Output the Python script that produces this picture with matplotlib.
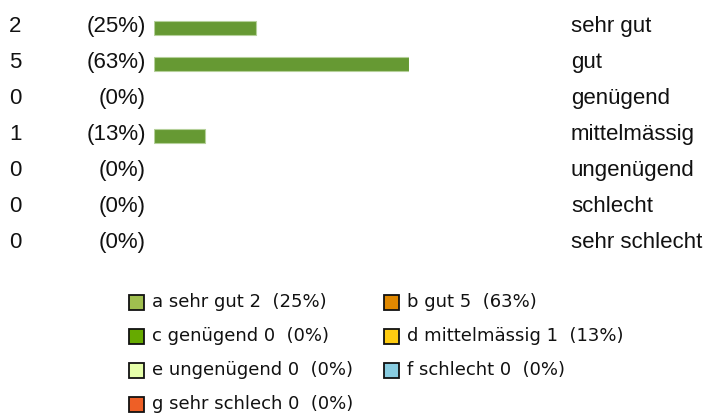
import matplotlib
matplotlib.use("Agg")
import matplotlib.pyplot as plt
from matplotlib.patches import Rectangle
from matplotlib.transforms import blended_transform_factory

# ---- data ----
labels = ["sehr gut", "gut", "genügend", "mittelmässig",
          "ungenügend", "schlecht", "sehr schlecht"]
counts = [2, 5, 0, 1, 0, 0, 0]
percents = [25, 63, 0, 13, 0, 0, 0]
letters = ["a", "b", "c", "d", "e", "f", "g"]
legend_colors = ["#a0bf4f", "#e08800", "#66aa00", "#ffcc11",
                 "#e6ffaa", "#88cce0", "#ee5f26"]

W, H = 709, 418
fig = plt.figure(figsize=(W / 100, H / 100), dpi=100)

# pixel-space axes for text and legend
pax = fig.add_axes([0, 0, 1, 1])
pax.set_xlim(0, W)
pax.set_ylim(H, 0)
pax.axis("off")

# bar axes: counts on x, rows 36 px apart, first centre at y=28
row_h = 36
top = 28 - row_h / 2
n = len(labels)
bottom = top + row_h * n
bar_left, bar_width = 154, 255
bax = fig.add_axes([bar_left / W, (H - bottom) / H, bar_width / W, (bottom - top) / H])
bax.set_xlim(0, max(counts))
bax.set_ylim(n - 0.5, -0.5)
bax.axis("off")
bax.patch.set_alpha(0)

rows = list(range(n))
# only draw an edge where there is a bar (zero bars stay invisible)
edge_w = [0.8 if c > 0 else 0 for c in counts]
bax.barh(rows, counts, height=14 / row_h, left=0, color="#669933",
         edgecolor="#b5d09a", linewidth=edge_w)

# text rows (x in pixels, y in bar rows); text sits a bit above bar centre
tr = blended_transform_factory(pax.transData, bax.transData)
font = dict(family=["Liberation Sans", "DejaVu Sans"], fontsize=16, color="#111111")
dy = -0.05
for i in rows:
    pax.text(9, i + dy, str(counts[i]), transform=tr, ha="left", va="center", **font)
    pax.text(146, i + dy, f"({percents[i]}%)", transform=tr, ha="right", va="center", **font)
    pax.text(571, i + dy, labels[i], transform=tr, ha="left", va="center", **font)

# legend: two columns, row-major
col_x = [129, 384]
row_y0, row_dy = 302, 34
box = 15
lfont = dict(family=["DejaVu Sans"], fontsize=13, color="#111111")
for k in range(n):
    r, c = divmod(k, 2)
    x = col_x[c]
    y = row_y0 + r * row_dy
    pax.add_patch(Rectangle((x, y - box / 2), box, box, facecolor=legend_colors[k],
                            edgecolor="#111111", linewidth=1.3))
    txt = f"{letters[k]} {labels[k][:12]} {counts[k]}  ({percents[k]}%)"
    pax.text(x + box + 8, y, txt, ha="left", va="center", **lfont)

fig.savefig("out.png", dpi=100)
